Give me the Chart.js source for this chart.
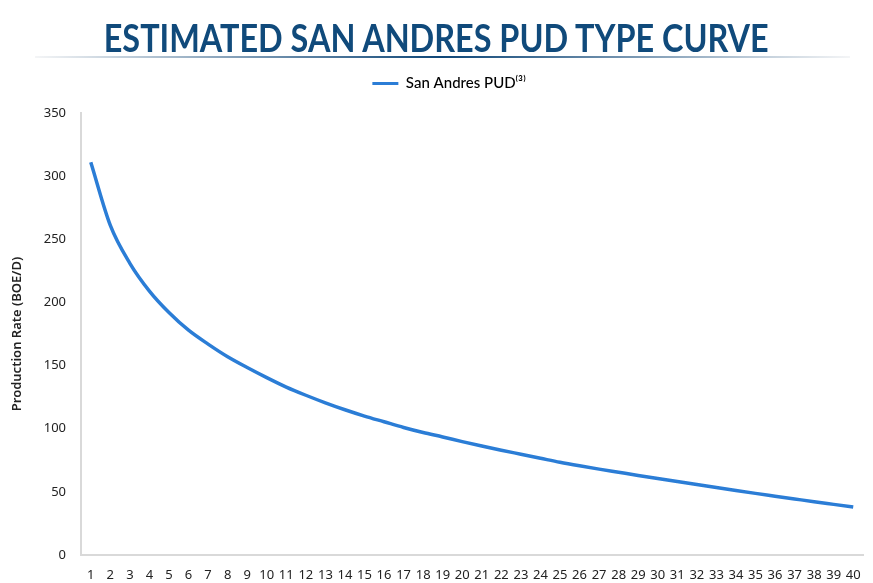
<!DOCTYPE html>
<html>
<head>
<meta charset="utf-8">
<script src="https://cdn.jsdelivr.net/npm/chart.js@4.4.1/dist/chart.umd.min.js"></script>
<style>
  html, body { margin: 0; padding: 0; background: #fff; }
  #wrap { position: relative; width: 873px; height: 583px; overflow: hidden; }
  #titulo {
    position: absolute; left: 0; top: 15px; width: 873px; text-align: center;
    line-height: 44px; z-index: 2;
  }
  #titulo span {
    display: inline-block; transform-origin: center;
    font-family: Lato, 'Open Sans', sans-serif;
    font-weight: bold; font-size: 39px; color: #104a7b;
  }
  #linha {
    position: absolute; left: 35px; top: 56px; width: 815px; height: 2px;
    background: linear-gradient(to right, rgba(200,205,212,0.2), #0e4677 50%, rgba(200,205,212,0.2));
  }
  canvas { position: absolute; left: 0; top: 0; }
</style>
</head>
<body>
<div id="wrap">
  <div id="titulo"><span>ESTIMATED SAN ANDRES PUD TYPE CURVE</span></div>
  <div id="linha"></div>
  <canvas id="curva" width="873" height="583"></canvas>
</div>
<script>
// dados (BOE/D por período)
const periodos = [];
for (let i = 1; i <= 40; i++) periodos.push(String(i));

const producao = [
  311, 261, 231, 209, 192, 178, 167, 157, 148.5, 140.5,
  133, 126.5, 120.5, 115, 110, 105.5, 101, 97, 93.5, 89.8,
  86.3, 83, 79.8, 76.6, 73.4, 70.6, 68, 65.5, 63, 60.6,
  58.2, 55.8, 53.5, 51.1, 48.8, 46.6, 44.4, 42.2, 40.1, 38
];

const ticksY = [0, 50, 100, 150, 200, 250, 300, 350];
const nomeSerie = 'San Andres PUD\u207D\u00B3\u207E';
const azul = '#2b7dd6';
const fonteTxt = "'Noto Sans', 'Open Sans', sans-serif";

// ajusta a largura do título como no original (fonte condensada)
function ajustarTitulo() {
  const s = document.querySelector('#titulo span');
  const w = s.getBoundingClientRect().width;
  s.style.transform = 'scaleX(' + (665 / w) + ')';
}

// espaço extra entre legenda e gráfico + legenda um pouco à direita
const espacoLegenda = {
  id: 'espacoLegenda',
  beforeInit(chart) {
    const fitOrig = chart.legend.fit;
    chart.legend.fit = function () {
      fitOrig.bind(chart.legend)();
      this.height += 12;
    };
  },
  afterLayout(chart) {
    chart.legend.left += 26;
  }
};

function criarGrafico() {
  const ctx = document.getElementById('curva');
  new Chart(ctx, {
    type: 'line',
    data: {
      labels: periodos,
      datasets: [{
        label: nomeSerie,
        data: producao,
        borderColor: azul,
        backgroundColor: azul,
        borderWidth: 3.5,
        pointRadius: 0,
        cubicInterpolationMode: 'monotone',
        fill: false
      }]
    },
    options: {
      responsive: false,
      animation: false,
      devicePixelRatio: 1,
      layout: { padding: { top: 68, left: 9, right: 10, bottom: 0 } },
      plugins: {
        legend: {
          position: 'top',
          labels: {
            boxWidth: 26,
            boxHeight: 3,
            padding: 8,
            color: '#222',
            font: { family: "Lato, 'Open Sans', sans-serif", size: 15, weight: '500' },
            generateLabels: () => [{
              text: nomeSerie, fillStyle: azul, strokeStyle: azul, lineWidth: 0, datasetIndex: 0
            }]
          }
        },
        tooltip: { enabled: false }
      },
      scales: {
        x: {
          offset: true,
          grid: { display: false, drawTicks: false },
          border: { display: true, color: '#d9d9d9', width: 2 },
          ticks: {
            autoSkip: false, maxRotation: 0, padding: 12,
            color: '#222', font: { family: fonteTxt, size: 13 }
          },
          afterFit: s => { s.height = 28; }
        },
        y: {
          min: 0, max: 350,
          afterBuildTicks: s => { s.ticks = ticksY.map(v => ({ value: v })); },
          grid: { display: false, drawTicks: false },
          border: { display: true, color: '#d9d9d9', width: 2 },
          ticks: { padding: 15, color: '#222', font: { family: fonteTxt, size: 13 } },
          title: {
            display: true, text: 'Production Rate (BOE/D)', color: '#222',
            font: { family: fonteTxt, size: 13, weight: '600' }, padding: { top: 0, bottom: 4 }
          },
          afterFit: s => { s.width = 72; }
        }
      }
    },
    plugins: [espacoLegenda]
  });
}

window.onload = () => { ajustarTitulo(); criarGrafico(); };
</script>
</body>
</html>
